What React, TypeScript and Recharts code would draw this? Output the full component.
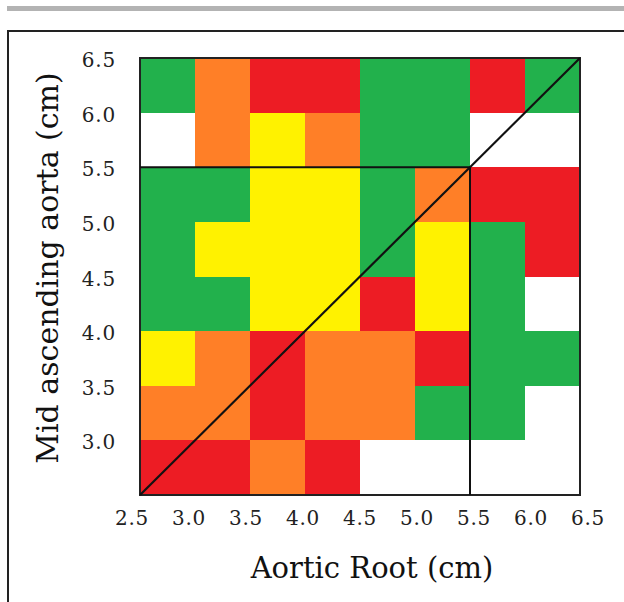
import React from "react";
import { ComposedChart, XAxis, YAxis, ReferenceArea, ReferenceLine } from "recharts";

// Column (Aortic Root) bin starts, cm
const xBins = [2.5, 3.0, 3.5, 4.0, 4.5, 5.0, 5.5, 6.0];
// Row (Mid ascending aorta) bin starts, cm, top to bottom
const yBins = [6.0, 5.5, 5.0, 4.5, 4.0, 3.5, 3.0, 2.5];
const binSize = 0.5;
// Cell categories per row (G green, O orange, R red, Y yellow, W empty)
const row60 = ["G", "O", "R", "R", "G", "G", "R", "G"];
const row55 = ["W", "O", "Y", "O", "G", "G", "W", "W"];
const row50 = ["G", "G", "Y", "Y", "G", "O", "R", "R"];
const row45 = ["G", "Y", "Y", "Y", "G", "Y", "G", "R"];
const row40 = ["G", "G", "Y", "Y", "R", "Y", "G", "W"];
const row35 = ["Y", "O", "R", "O", "O", "R", "G", "G"];
const row30 = ["O", "O", "R", "O", "O", "G", "G", "W"];
const row25 = ["R", "R", "O", "R", "W", "W", "W", "W"];
const rows = [row60, row55, row50, row45, row40, row35, row30, row25];

const xTicks = [2.5, 3.0, 3.5, 4.0, 4.5, 5.0, 5.5, 6.0, 6.5];
const yTicks = [3.0, 3.5, 4.0, 4.5, 5.0, 5.5, 6.0, 6.5];
const diagonal = [{ x: 2.5, y: 2.5 }, { x: 6.5, y: 6.5 }];
const hLine = [{ x: 2.5, y: 5.5 }, { x: 5.5, y: 5.5 }];
const vLine = [{ x: 5.5, y: 2.5 }, { x: 5.5, y: 5.5 }];

const colors: Record<string, string> = {
  G: "#22b14c",
  O: "#ff7f27",
  R: "#ed1c24",
  Y: "#fff200",
  W: "#ffffff",
};

const FONT = "DejaVu Serif";

const XTick = (props: any) => {
  const { x, y, payload } = props;
  const v = payload.value as number;
  return (
    <text x={x + (v - 4.5) * 4} y={y} dy={15} textAnchor="middle" fontFamily={FONT} fontSize={20} letterSpacing={0.8} fill="#222">
      {v.toFixed(1)}
    </text>
  );
};

const YTick = (props: any) => {
  const { x, y, payload } = props;
  const v = payload.value as number;
  return (
    <text x={x} y={y} dy={9} textAnchor="end" fontFamily={FONT} fontSize={20} letterSpacing={0.8} fill="#222">
      {v.toFixed(1)}
    </text>
  );
};

export default function App() {
  const cells: { x1: number; x2: number; y1: number; y2: number; c: string }[] = [];
  rows.forEach((row, ri) => {
    row.forEach((c, ci) => {
      if (c === "W") return;
      cells.push({ x1: xBins[ci], x2: xBins[ci] + binSize, y1: yBins[ri], y2: yBins[ri] + binSize, c });
    });
  });

  return (
    <div style={{ position: "absolute", left: 0, top: 0, width: 624, height: 602, background: "#fff" }}>
      <div style={{ position: "absolute", left: 7, top: 6, width: 617, height: 5, background: "#b3b3b3" }} />
      <div
        style={{
          position: "absolute",
          left: 7,
          top: 30,
          width: 640,
          height: 620,
          borderLeft: "2px solid #222",
          borderTop: "2px solid #222",
          boxSizing: "border-box",
        }}
      />
      <div style={{ position: "absolute", left: 0, top: 0 }}>
        <ComposedChart width={624} height={602} margin={{ top: 58, right: 44, left: 0, bottom: 0 }}>
          <XAxis
            type="number"
            dataKey="x"
            domain={[2.5, 6.5]}
            ticks={xTicks}
            allowDataOverflow
            axisLine={false}
            tickLine={false}
            tickSize={0}
            tickMargin={15}
            height={107}
            tick={<XTick />}
            label={{
              content: () => (
                <text x={372} y={578} textAnchor="middle" fontFamily={FONT} fontSize={29} fill="#111">
                  Aortic Root (cm)
                </text>
              ),
            }}
          />
          <YAxis
            type="number"
            dataKey="y"
            domain={[2.5, 6.5]}
            ticks={yTicks}
            allowDataOverflow
            axisLine={false}
            tickLine={false}
            tickSize={0}
            tickMargin={24}
            width={140}
            tick={<YTick />}
            label={{
              content: () => (
                <text
                  x={58}
                  y={268}
                  textAnchor="middle"
                  transform="rotate(-90, 58, 268)"
                  fontFamily={FONT}
                  fontSize={30}
                  fill="#111"
                >
                  Mid ascending aorta (cm)
                </text>
              ),
            }}
          />
          {cells.map((cell, i) => (
            <ReferenceArea
              key={i}
              x1={cell.x1}
              x2={cell.x2}
              y1={cell.y1}
              y2={cell.y2}
              fill={colors[cell.c]}
              fillOpacity={1}
              stroke="none"
              shapeRendering="crispEdges"
              isAnimationActive={false}
            />
          ))}
          <ReferenceLine segment={hLine} stroke="#111" strokeWidth={2} />
          <ReferenceLine segment={vLine} stroke="#111" strokeWidth={2} />
          <ReferenceLine segment={diagonal} stroke="#111" strokeWidth={2.2} />
          <ReferenceArea x1={2.5} x2={6.5} y1={2.5} y2={6.5} fill="none" stroke="#222" strokeWidth={2} />
        </ComposedChart>
      </div>
    </div>
  );
}
